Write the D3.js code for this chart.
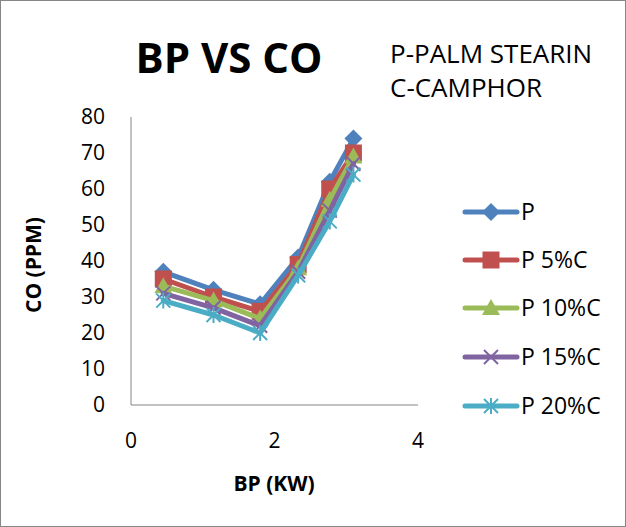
<!DOCTYPE html>
<html><head><meta charset="utf-8">
<script src="https://cdn.jsdelivr.net/npm/d3@7"></script>
<style>html,body{margin:0;padding:0;background:#fff}svg{display:block}</style>
</head><body>
<script>
const bpValues = [0.45, 1.15, 1.8, 2.33, 2.77, 3.1];
const seriesNames = ["P", "P 5%C", "P 10%C", "P 15%C", "P 20%C"];
const coP   = [37, 32, 28, 41, 62, 74];
const coP5  = [35, 30, 26, 39, 60, 70];
const coP10 = [33, 29, 24, 38, 57, 69];
const coP15 = [31, 27, 22, 37, 54, 67];
const coP20 = [29, 25, 20, 36, 51, 64];
const yTicks = [0, 10, 20, 30, 40, 50, 60, 70, 80];
const xTicks = [0, 2, 4];
const colors = ["#4F81BD", "#C0504D", "#9BBB59", "#8064A2", "#4BACC6"];
const markers = ["diamond", "square", "triangle", "x", "asterisk"];
const seriesValues = [coP, coP5, coP10, coP15, coP20];

const W = 626, H = 527;
const svg = d3.select("body").append("svg").attr("width", W).attr("height", H);
svg.append("rect").attr("x", 0.5).attr("y", 0.5).attr("width", W - 1).attr("height", H - 1)
  .attr("fill", "#fff").attr("stroke", "#868686");

const font = "'Open Sans', 'Liberation Sans', sans-serif";
const x = d3.scaleLinear().domain([0, 4]).range([131, 418]);
const y = d3.scaleLinear().domain([0, 80]).range([405, 117]);

// axes
svg.append("line").attr("x1", x(0)).attr("x2", x(0)).attr("y1", y(80)).attr("y2", y(0)).attr("stroke", "#868686").attr("stroke-width", 1);
svg.append("line").attr("x1", x(0)).attr("x2", x(4)).attr("y1", y(0)).attr("y2", y(0)).attr("stroke", "#868686").attr("stroke-width", 1);

svg.selectAll(".yt").data(yTicks).enter().append("text")
  .attr("x", 105).attr("y", d => y(d)).attr("dy", "0.35em").attr("text-anchor", "end")
  .attr("font-family", font).attr("font-size", 21).attr("fill", "#000").text(d => d);
svg.selectAll(".xt").data(xTicks).enter().append("text")
  .attr("x", d => x(d)).attr("y", 441).attr("dy", "0.35em").attr("text-anchor", "middle")
  .attr("font-family", font).attr("font-size", 21).attr("fill", "#000").text(d => d);

// titles
svg.append("text").attr("x", 229).attr("y", 73).attr("text-anchor", "middle")
  .attr("font-family", font).attr("font-weight", "bold").attr("font-size", 42).text("BP VS CO");
svg.append("text").attr("x", 390).attr("y", 63).attr("font-family", font).attr("font-size", 26).text("P-PALM STEARIN");
svg.append("text").attr("x", 390).attr("y", 97).attr("font-family", font).attr("font-size", 26).text("C-CAMPHOR");
svg.append("text").attr("x", 274).attr("y", 491).attr("text-anchor", "middle")
  .attr("font-family", font).attr("font-weight", "bold").attr("font-size", 21).text("BP (KW)");
svg.append("text").attr("transform", "translate(41,265) rotate(-90)").attr("text-anchor", "middle")
  .attr("font-family", font).attr("font-weight", "bold").attr("font-size", 21).text("CO (PPM)");

function drawMarker(g, type, color) {
  if (type === "diamond") {
    g.append("path").attr("d", "M0,-9L9,0L0,9L-9,0Z").attr("fill", color);
  } else if (type === "square") {
    g.append("rect").attr("x", -8.5).attr("y", -8.5).attr("width", 17).attr("height", 17).attr("fill", color);
  } else if (type === "triangle") {
    g.append("path").attr("d", "M0,-9L9,7L-9,7Z").attr("fill", color);
  } else if (type === "x") {
    g.append("path").attr("d", "M-7,-7L7,7M-7,7L7,-7").attr("stroke", color).attr("stroke-width", 2).attr("fill", "none");
  } else if (type === "asterisk") {
    g.append("path").attr("d", "M-7,-7L7,7M-7,7L7,-7M0,-8L0,8").attr("stroke", color).attr("stroke-width", 2).attr("fill", "none");
  }
}

const line = d3.line().x((d, i) => x(bpValues[i])).y(d => y(d));
seriesValues.forEach((vals, s) => {
  const g = svg.append("g");
  g.append("path").attr("d", line(vals)).attr("fill", "none").attr("stroke", colors[s])
    .attr("stroke-width", 5).attr("stroke-linejoin", "round").attr("stroke-linecap", "round");
  vals.forEach((v, i) => {
    const m = g.append("g").attr("transform", `translate(${x(bpValues[i])},${y(v)})`);
    drawMarker(m, markers[s], colors[s]);
  });
});

// legend
const legY = [212, 260, 308, 357, 406];
seriesNames.forEach((name, s) => {
  const g = svg.append("g").attr("transform", `translate(0,${legY[s]})`);
  g.append("line").attr("x1", 465).attr("x2", 517).attr("stroke", colors[s]).attr("stroke-width", 5).attr("stroke-linecap", "round");
  const m = g.append("g").attr("transform", "translate(491,0)");
  drawMarker(m, markers[s], colors[s]);
  g.append("text").attr("x", 521).attr("dy", "0.36em").attr("font-family", font).attr("font-size", 23).text(name);
});
</script>
</body></html>
